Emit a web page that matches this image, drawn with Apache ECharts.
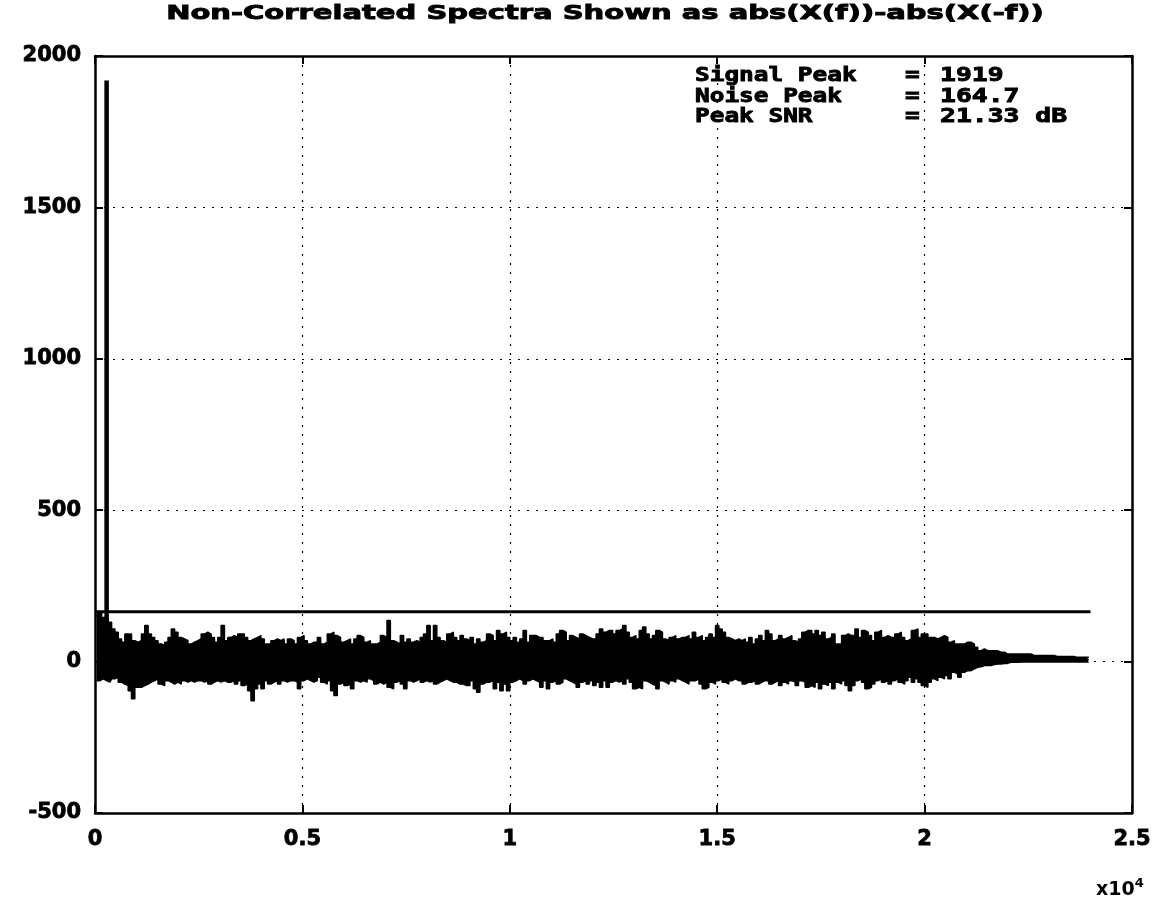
<!DOCTYPE html>
<html>
<head>
<meta charset="utf-8">
<title>Non-Correlated Spectra</title>
<script src="https://cdn.jsdelivr.net/npm/echarts@6/dist/echarts.min.js"></script>
<style>
  html, body { margin: 0; padding: 0; background: #fff; }
  #chart { width: 1165px; height: 905px; }
</style>
</head>
<body>
<div id="chart"></div>
<script>
// Frequency axis (Hz) and amplitude axis settings
const xTickLabels = ['0', '0.5', '1', '1.5', '2', '2.5'];
const yTickLabels = ['-500', '0', '500', '1000', '1500', '2000'];

// Spectrum difference abs(X(f)) - abs(X(-f)): per-bin upper / lower excursions, bins of 80 Hz
const binStep = 80;
const noiseUpper = [
  150,164.7,146,140,130,108,97,75,64,91, 91,69,64,69,91,119,91,80,69,58,
  53,64,80,108,97,80,75,69,58,64, 69,75,91,97,91,80,64,80,119,69,
  80,86,80,91,91,80,69,75,80,86, 75,58,58,69,75,69,75,58,75,69,
  58,80,86,69,58,64,64,80,58,64, 91,97,86,80,64,69,75,58,75,86,
  80,64,69,58,58,64,86,80,136,69, 64,58,86,64,75,64,69,64,80,91,
  119,69,119,80,69,64,91,97,80,69, 86,75,69,80,58,75,64,69,91,86,
  69,103,91,97,80,69,80,64,75,103, 64,86,86,80,80,69,69,75,64,91,
  103,97,69,86,80,75,91,86,80,75, 75,91,108,97,103,103,91,103,108,119,
  97,80,86,75,103,114,91,75,86,103, 97,75,69,80,86,75,80,80,86,75,
  97,80,86,69,80,91,80,119,108,97, 80,75,69,75,69,75,64,80,58,75,
  86,69,103,91,69,75,86,75,80,86, 69,64,75,97,103,103,91,103,86,97,
  75,80,91,58,58,86,91,86,86,108, 80,103,97,86,69,97,103,80,86,80,
  80,91,97,80,69,75,103,108,80,91, 91,80,80,75,80,86,80,64,69,58,
  58,58,64,64,58,47,36,42,36,36, 36,36,31,31,25,25,25,25,25,25,
  25,25,20,20,20,20,20,20,20,17, 17,17,17,17,17,14,14,14,14,14
];
const noiseLower = [
  -63,-63,-57,-63,-68,-57,-52,-68,-74,-79, -96,-123,-85,-85,-79,-74,-68,-63,-57,-74,
  -79,-63,-68,-74,-68,-74,-63,-68,-63,-68, -63,-63,-68,-63,-74,-68,-63,-68,-63,-68,
  -68,-63,-74,-63,-79,-74,-96,-129,-90,-74, -90,-63,-74,-68,-63,-74,-63,-68,-63,-63,
  -68,-90,-63,-57,-63,-68,-63,-52,-68,-74, -63,-96,-112,-74,-68,-79,-74,-90,-63,-68,
  -63,-68,-57,-63,-74,-68,-74,-68,-85,-90, -68,-63,-74,-90,-63,-68,-63,-57,-68,-63,
  -68,-63,-74,-68,-63,-57,-63,-68,-68,-74, -74,-79,-79,-63,-90,-101,-74,-68,-68,-63,
  -90,-68,-96,-74,-96,-68,-63,-57,-63,-74, -63,-57,-63,-68,-85,-63,-90,-68,-63,-74,
  -68,-57,-63,-68,-74,-85,-68,-63,-74,-63, -79,-68,-85,-63,-85,-68,-63,-68,-63,-74,
  -57,-68,-90,-85,-90,-63,-68,-74,-79,-90, -63,-68,-74,-63,-68,-57,-63,-68,-74,-63,
  -63,-57,-74,-90,-85,-68,-74,-63,-57,-68, -74,-63,-57,-63,-63,-74,-68,-68,-63,-74,
  -68,-63,-63,-74,-68,-63,-79,-68,-74,-63, -68,-79,-63,-68,-85,-79,-85,-68,-90,-74,
  -79,-68,-90,-68,-74,-63,-79,-96,-79,-63, -57,-68,-90,-85,-74,-63,-57,-68,-63,-74,
  -63,-57,-68,-74,-63,-52,-68,-57,-68,-79, -85,-68,-57,-63,-52,-57,-46,-57,-35,-41,
  -52,-35,-30,-30,-24,-19,-17,-13,-13,-13, -10,-8,-8,-6,-6,-2,-2,-2,0,1,
  1,1,3,3,3,3,3,3,6,6, 6,6,6,6,6,7,7,7,7,7
];

// Detected tone and noise statistics
const signalFreq = 280;
const signalPeak = 1919;
const noisePeak = 164.7;
const noiseSpan = [0, 24000];
const statLabels = ['Signal Peak', 'Noise Peak', 'Peak SNR'];
const statValues = ['1919', '164.7', '21.33 dB'];

// Upper and lower excursions of each frequency bin
const upperTrace = noiseUpper.map((v, i) => [i * binStep + binStep / 2, v]);
const lowerTrace = noiseLower.map((v, i) => [i * binStep + binStep / 2, v]);

const FONT = 'DejaVu Sans';
const MONO = 'DejaVu Sans Mono';

const chart = echarts.init(document.getElementById('chart'), null, { renderer: 'canvas' });

const frameLine = { show: true, onZero: false, lineStyle: { color: '#000', width: 2.5 } };
const gridDots = { show: true, lineStyle: { color: '#000', width: 1.2, type: [2, 7] } };
const tick = { show: true, inside: true, length: 8, lineStyle: { color: '#000', width: 2 } };

// Heavy text: fill plus a thin stroke of the same colour
const heavyText = (text, font, extra) => Object.assign({
  text: text, font: font, fill: '#000', stroke: '#000', lineWidth: 0.9, textVerticalAlign: 'middle'
}, extra || {});

const statGraphics = [];
statLabels.forEach((t, i) => {
  const y = 76 + i * 20.5;
  const f = 'bold 20px "' + MONO + '"';
  statGraphics.push({ type: 'text', x: 695, y: y, scaleX: 1.22, style: heavyText(t, f) });
  statGraphics.push({ type: 'text', x: 905, y: y, scaleX: 1.22, style: heavyText('=', f) });
  statGraphics.push({ type: 'text', x: 940, y: y, scaleX: 1.32, style: heavyText(statValues[i], f) });
});

// Filled step trace; the fill reaches slightly past zero so the two halves join
const bandSeries = (name, data, origin) => ({
  name: name, type: 'line', data: data, step: 'middle',
  showSymbol: false, sampling: null, smooth: false,
  lineStyle: { color: '#000', width: 1.5 },
  areaStyle: { color: '#000', opacity: 1, origin: origin }, z: 3
});

const axisFont = {
  color: '#000', fontFamily: FONT, fontWeight: 'bold', fontSize: 21,
  textBorderColor: '#000', textBorderWidth: 0.8
};

chart.setOption({
  animation: false,
  backgroundColor: '#fff',
  grid: { left: 95, right: 33, top: 56, bottom: 92, containLabel: false },
  xAxis: [
    {
      type: 'value', min: 0, max: 25000, interval: 5000,
      axisLine: frameLine, axisTick: tick, splitLine: gridDots,
      axisLabel: Object.assign({
        margin: 16, formatter: (v) => xTickLabels[Math.round(v / 5000)]
      }, axisFont)
    },
    {
      type: 'value', position: 'top', min: 0, max: 25000, interval: 5000,
      axisLine: frameLine, axisTick: tick,
      splitLine: { show: false }, axisLabel: { show: false }
    }
  ],
  yAxis: [
    {
      type: 'value', min: -500, max: 2000, interval: 500,
      axisLine: frameLine, axisTick: tick, splitLine: gridDots,
      axisLabel: Object.assign({
        margin: 14, formatter: (v) => yTickLabels[Math.round((v + 500) / 500)]
      }, axisFont)
    },
    {
      type: 'value', position: 'right', min: -500, max: 2000, interval: 500,
      axisLine: frameLine, axisTick: tick,
      splitLine: { show: false }, axisLabel: { show: false }
    }
  ],
  series: [
    bandSeries('upper excursion', upperTrace, -4),
    bandSeries('lower excursion', lowerTrace, 4),
    {
      name: 'noise peak', type: 'line',
      data: [[noiseSpan[0], noisePeak], [noiseSpan[1], noisePeak]],
      showSymbol: false, lineStyle: { color: '#000', width: 2.8 }, z: 4
    },
    {
      name: 'signal peak', type: 'line',
      data: [[signalFreq, 0], [signalFreq, signalPeak]],
      showSymbol: false, lineStyle: { color: '#000', width: 4.5 }, z: 5
    }
  ],
  graphic: [
    {
      type: 'text', x: 605, y: 14, scaleX: 1.45,
      style: heavyText('Non-Correlated Spectra Shown as abs(X(f))-abs(X(-f))',
        'bold 20px "' + FONT + '"', { textAlign: 'center' })
    },
    {
      type: 'text', x: 1096, y: 890,
      style: {
        text: '{b|x10}{s|4}',
        rich: {
          b: { font: 'bold 19px "' + FONT + '"', fill: '#000' },
          s: { font: 'bold 13px "' + FONT + '"', fill: '#000', verticalAlign: 'top', padding: [0, 0, 12, 0] }
        },
        textVerticalAlign: 'middle'
      }
    }
  ].concat(statGraphics)
});
</script>
</body>
</html>
